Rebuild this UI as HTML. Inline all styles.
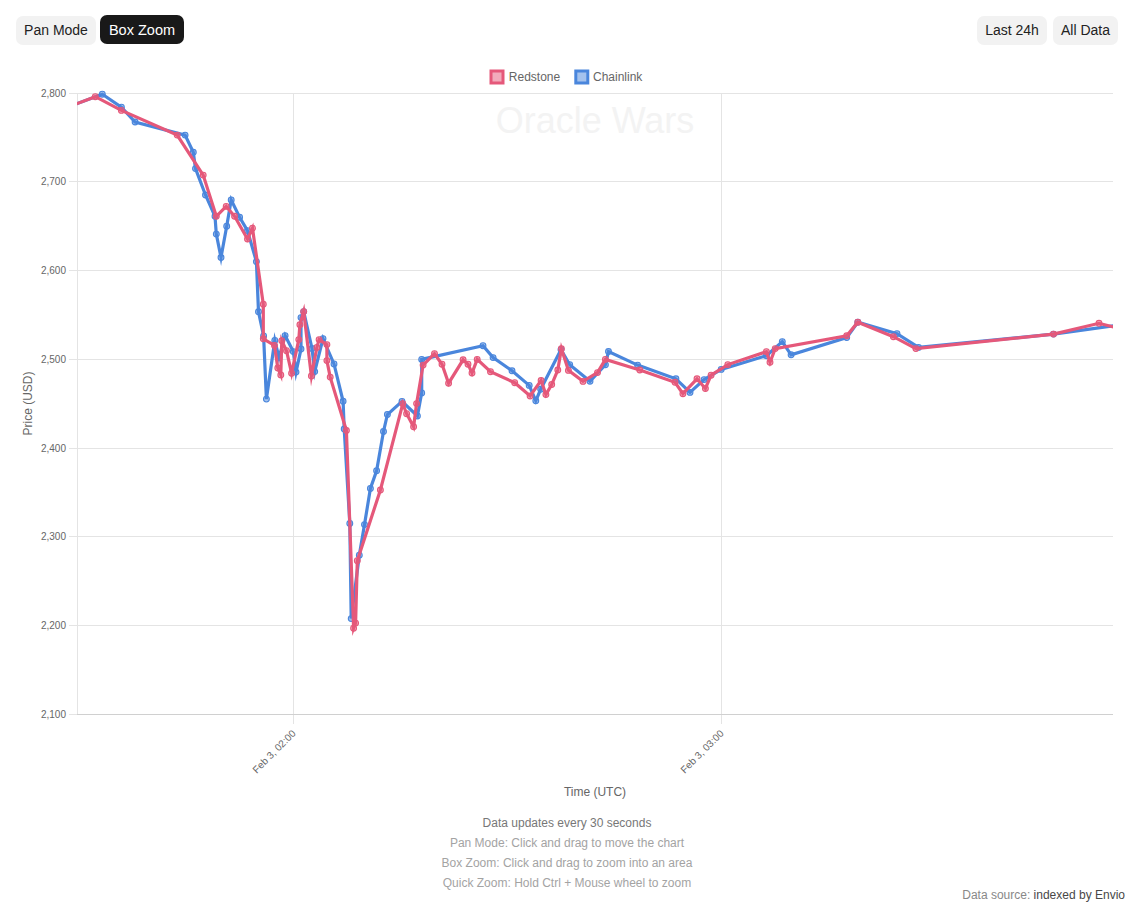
<!DOCTYPE html>
<html><head><meta charset="utf-8"><title>Oracle Wars</title>
<style>
html,body{margin:0;padding:0;background:#fff;width:1139px;height:908px;overflow:hidden;font-family:"Liberation Sans",sans-serif;}
svg text{font-family:"Liberation Sans",sans-serif;}
.btn{position:absolute;height:29px;line-height:29px;border-radius:7px;background:#f2f2f2;color:#222;font-size:14px;text-align:center;white-space:nowrap;}
.btn.on{background:#191919;color:#fff;}
</style></head><body>
<div class="btn" style="left:16px;top:16px;width:80px;">Pan Mode</div>
<div class="btn on" style="left:100px;top:15px;width:84px;font-size:14.5px;line-height:30.5px;height:29px;">Box Zoom</div>
<div class="btn" style="left:977px;top:16px;width:70px;">Last 24h</div>
<div class="btn" style="left:1053px;top:16px;width:65px;">All Data</div>
<svg width="1139" height="908" style="position:absolute;left:0;top:0"><defs><clipPath id="ca"><rect x="77" y="0" width="1036" height="908"/></clipPath></defs><line x1="69" y1="93.5" x2="1113" y2="93.5" stroke="#e4e4e4" stroke-width="1"/><text x="66" y="96.8" text-anchor="end" font-size="10" fill="#666">2,800</text><line x1="69" y1="181.5" x2="1113" y2="181.5" stroke="#e4e4e4" stroke-width="1"/><text x="66" y="184.8" text-anchor="end" font-size="10" fill="#666">2,700</text><line x1="69" y1="270.5" x2="1113" y2="270.5" stroke="#e4e4e4" stroke-width="1"/><text x="66" y="273.8" text-anchor="end" font-size="10" fill="#666">2,600</text><line x1="69" y1="359.5" x2="1113" y2="359.5" stroke="#e4e4e4" stroke-width="1"/><text x="66" y="362.8" text-anchor="end" font-size="10" fill="#666">2,500</text><line x1="69" y1="448.5" x2="1113" y2="448.5" stroke="#e4e4e4" stroke-width="1"/><text x="66" y="451.8" text-anchor="end" font-size="10" fill="#666">2,400</text><line x1="69" y1="536.5" x2="1113" y2="536.5" stroke="#e4e4e4" stroke-width="1"/><text x="66" y="539.8" text-anchor="end" font-size="10" fill="#666">2,300</text><line x1="69" y1="625.5" x2="1113" y2="625.5" stroke="#e4e4e4" stroke-width="1"/><text x="66" y="628.8" text-anchor="end" font-size="10" fill="#666">2,200</text><line x1="69" y1="714.5" x2="1113" y2="714.5" stroke="#e4e4e4" stroke-width="1"/><text x="66" y="717.8" text-anchor="end" font-size="10" fill="#666">2,100</text><line x1="77.5" y1="93" x2="77.5" y2="714" stroke="#e4e4e4" stroke-width="1"/><line x1="293.5" y1="93" x2="293.5" y2="724" stroke="#e4e4e4" stroke-width="1"/><line x1="721.5" y1="93" x2="721.5" y2="724" stroke="#e4e4e4" stroke-width="1"/><line x1="77" y1="714.5" x2="1113" y2="714.5" stroke="#d0d0d0" stroke-width="1"/><text transform="translate(294.5,732.3) rotate(-45)" text-anchor="end" dominant-baseline="middle" font-size="10" fill="#666">Feb 3, 02:00</text><text transform="translate(722.5,732.3) rotate(-45)" text-anchor="end" dominant-baseline="middle" font-size="10" fill="#666">Feb 3, 03:00</text><text x="595" y="133" text-anchor="middle" font-size="36" fill="#f3f3f3">Oracle Wars</text><g clip-path="url(#ca)"><polyline points="60,110.0 102.3,94.19999999999999 121.4,107.19999999999999 135.1,122.0 185.1,135.1 193.3,152.29999999999998 195.5,168.6 205.5,195.0 215,216.29999999999998 216.3,234.1 221,257.40000000000003 226.7,226.2 231.2,199.9 239.6,217.29999999999998 247.5,230.6 256.4,261.6 258.5,311.8 263.6,335.90000000000003 266.4,399.1 274.8,340.40000000000003 279,357.6 285.1,335.6 293.3,351.6 296,372.1 301,349.0 301,317.6 303.7,311.6 312,348.5 314.7,371.6 323,338.6 334,363.90000000000003 343.1,401.3 344.2,428.90000000000003 349.8,523.4 351.2,618.6 359.3,555.3000000000001 364.5,524.6 370.4,488.5 376.6,470.8 383.5,431.5 387.4,414.5 402,401.40000000000003 417.4,416.0 421.7,392.90000000000003 421.7,359.40000000000003 483,345.70000000000005 493.1,357.6 512,370.8 529.2,385.40000000000003 535.8,400.8 540.7,389.3 561,349.6 569.7,364.70000000000005 590,381.20000000000005 605.4,364.70000000000005 608.5,351.5 637.6,365.1 675.9,378.8 690,392.40000000000003 704.1,379.6 721.2,369.40000000000003 766.4,355.70000000000005 782.3,341.6 791.1,354.8 846.7,337.6 857.8,322.20000000000005 897,333.6 918.5,347.40000000000003 1053.5,334.1 1125,324.1" fill="none" stroke="#4a86dc" stroke-width="3.2" stroke-linejoin="miter" stroke-miterlimit="10"/><circle cx="60" cy="110.0" r="2.9" fill="rgba(74,134,220,0.5)" stroke="#4a86dc" stroke-width="1.1"/><circle cx="102.3" cy="94.19999999999999" r="2.9" fill="rgba(74,134,220,0.5)" stroke="#4a86dc" stroke-width="1.1"/><circle cx="121.4" cy="107.19999999999999" r="2.9" fill="rgba(74,134,220,0.5)" stroke="#4a86dc" stroke-width="1.1"/><circle cx="135.1" cy="122.0" r="2.9" fill="rgba(74,134,220,0.5)" stroke="#4a86dc" stroke-width="1.1"/><circle cx="185.1" cy="135.1" r="2.9" fill="rgba(74,134,220,0.5)" stroke="#4a86dc" stroke-width="1.1"/><circle cx="193.3" cy="152.29999999999998" r="2.9" fill="rgba(74,134,220,0.5)" stroke="#4a86dc" stroke-width="1.1"/><circle cx="195.5" cy="168.6" r="2.9" fill="rgba(74,134,220,0.5)" stroke="#4a86dc" stroke-width="1.1"/><circle cx="205.5" cy="195.0" r="2.9" fill="rgba(74,134,220,0.5)" stroke="#4a86dc" stroke-width="1.1"/><circle cx="215" cy="216.29999999999998" r="2.9" fill="rgba(74,134,220,0.5)" stroke="#4a86dc" stroke-width="1.1"/><circle cx="216.3" cy="234.1" r="2.9" fill="rgba(74,134,220,0.5)" stroke="#4a86dc" stroke-width="1.1"/><circle cx="221" cy="257.40000000000003" r="2.9" fill="rgba(74,134,220,0.5)" stroke="#4a86dc" stroke-width="1.1"/><circle cx="226.7" cy="226.2" r="2.9" fill="rgba(74,134,220,0.5)" stroke="#4a86dc" stroke-width="1.1"/><circle cx="231.2" cy="199.9" r="2.9" fill="rgba(74,134,220,0.5)" stroke="#4a86dc" stroke-width="1.1"/><circle cx="239.6" cy="217.29999999999998" r="2.9" fill="rgba(74,134,220,0.5)" stroke="#4a86dc" stroke-width="1.1"/><circle cx="247.5" cy="230.6" r="2.9" fill="rgba(74,134,220,0.5)" stroke="#4a86dc" stroke-width="1.1"/><circle cx="256.4" cy="261.6" r="2.9" fill="rgba(74,134,220,0.5)" stroke="#4a86dc" stroke-width="1.1"/><circle cx="258.5" cy="311.8" r="2.9" fill="rgba(74,134,220,0.5)" stroke="#4a86dc" stroke-width="1.1"/><circle cx="263.6" cy="335.90000000000003" r="2.9" fill="rgba(74,134,220,0.5)" stroke="#4a86dc" stroke-width="1.1"/><circle cx="266.4" cy="399.1" r="2.9" fill="rgba(74,134,220,0.5)" stroke="#4a86dc" stroke-width="1.1"/><circle cx="274.8" cy="340.40000000000003" r="2.9" fill="rgba(74,134,220,0.5)" stroke="#4a86dc" stroke-width="1.1"/><circle cx="279" cy="357.6" r="2.9" fill="rgba(74,134,220,0.5)" stroke="#4a86dc" stroke-width="1.1"/><circle cx="285.1" cy="335.6" r="2.9" fill="rgba(74,134,220,0.5)" stroke="#4a86dc" stroke-width="1.1"/><circle cx="293.3" cy="351.6" r="2.9" fill="rgba(74,134,220,0.5)" stroke="#4a86dc" stroke-width="1.1"/><circle cx="296" cy="372.1" r="2.9" fill="rgba(74,134,220,0.5)" stroke="#4a86dc" stroke-width="1.1"/><circle cx="301" cy="349.0" r="2.9" fill="rgba(74,134,220,0.5)" stroke="#4a86dc" stroke-width="1.1"/><circle cx="301" cy="317.6" r="2.9" fill="rgba(74,134,220,0.5)" stroke="#4a86dc" stroke-width="1.1"/><circle cx="303.7" cy="311.6" r="2.9" fill="rgba(74,134,220,0.5)" stroke="#4a86dc" stroke-width="1.1"/><circle cx="312" cy="348.5" r="2.9" fill="rgba(74,134,220,0.5)" stroke="#4a86dc" stroke-width="1.1"/><circle cx="314.7" cy="371.6" r="2.9" fill="rgba(74,134,220,0.5)" stroke="#4a86dc" stroke-width="1.1"/><circle cx="323" cy="338.6" r="2.9" fill="rgba(74,134,220,0.5)" stroke="#4a86dc" stroke-width="1.1"/><circle cx="334" cy="363.90000000000003" r="2.9" fill="rgba(74,134,220,0.5)" stroke="#4a86dc" stroke-width="1.1"/><circle cx="343.1" cy="401.3" r="2.9" fill="rgba(74,134,220,0.5)" stroke="#4a86dc" stroke-width="1.1"/><circle cx="344.2" cy="428.90000000000003" r="2.9" fill="rgba(74,134,220,0.5)" stroke="#4a86dc" stroke-width="1.1"/><circle cx="349.8" cy="523.4" r="2.9" fill="rgba(74,134,220,0.5)" stroke="#4a86dc" stroke-width="1.1"/><circle cx="351.2" cy="618.6" r="2.9" fill="rgba(74,134,220,0.5)" stroke="#4a86dc" stroke-width="1.1"/><circle cx="359.3" cy="555.3000000000001" r="2.9" fill="rgba(74,134,220,0.5)" stroke="#4a86dc" stroke-width="1.1"/><circle cx="364.5" cy="524.6" r="2.9" fill="rgba(74,134,220,0.5)" stroke="#4a86dc" stroke-width="1.1"/><circle cx="370.4" cy="488.5" r="2.9" fill="rgba(74,134,220,0.5)" stroke="#4a86dc" stroke-width="1.1"/><circle cx="376.6" cy="470.8" r="2.9" fill="rgba(74,134,220,0.5)" stroke="#4a86dc" stroke-width="1.1"/><circle cx="383.5" cy="431.5" r="2.9" fill="rgba(74,134,220,0.5)" stroke="#4a86dc" stroke-width="1.1"/><circle cx="387.4" cy="414.5" r="2.9" fill="rgba(74,134,220,0.5)" stroke="#4a86dc" stroke-width="1.1"/><circle cx="402" cy="401.40000000000003" r="2.9" fill="rgba(74,134,220,0.5)" stroke="#4a86dc" stroke-width="1.1"/><circle cx="417.4" cy="416.0" r="2.9" fill="rgba(74,134,220,0.5)" stroke="#4a86dc" stroke-width="1.1"/><circle cx="421.7" cy="392.90000000000003" r="2.9" fill="rgba(74,134,220,0.5)" stroke="#4a86dc" stroke-width="1.1"/><circle cx="421.7" cy="359.40000000000003" r="2.9" fill="rgba(74,134,220,0.5)" stroke="#4a86dc" stroke-width="1.1"/><circle cx="483" cy="345.70000000000005" r="2.9" fill="rgba(74,134,220,0.5)" stroke="#4a86dc" stroke-width="1.1"/><circle cx="493.1" cy="357.6" r="2.9" fill="rgba(74,134,220,0.5)" stroke="#4a86dc" stroke-width="1.1"/><circle cx="512" cy="370.8" r="2.9" fill="rgba(74,134,220,0.5)" stroke="#4a86dc" stroke-width="1.1"/><circle cx="529.2" cy="385.40000000000003" r="2.9" fill="rgba(74,134,220,0.5)" stroke="#4a86dc" stroke-width="1.1"/><circle cx="535.8" cy="400.8" r="2.9" fill="rgba(74,134,220,0.5)" stroke="#4a86dc" stroke-width="1.1"/><circle cx="540.7" cy="389.3" r="2.9" fill="rgba(74,134,220,0.5)" stroke="#4a86dc" stroke-width="1.1"/><circle cx="561" cy="349.6" r="2.9" fill="rgba(74,134,220,0.5)" stroke="#4a86dc" stroke-width="1.1"/><circle cx="569.7" cy="364.70000000000005" r="2.9" fill="rgba(74,134,220,0.5)" stroke="#4a86dc" stroke-width="1.1"/><circle cx="590" cy="381.20000000000005" r="2.9" fill="rgba(74,134,220,0.5)" stroke="#4a86dc" stroke-width="1.1"/><circle cx="605.4" cy="364.70000000000005" r="2.9" fill="rgba(74,134,220,0.5)" stroke="#4a86dc" stroke-width="1.1"/><circle cx="608.5" cy="351.5" r="2.9" fill="rgba(74,134,220,0.5)" stroke="#4a86dc" stroke-width="1.1"/><circle cx="637.6" cy="365.1" r="2.9" fill="rgba(74,134,220,0.5)" stroke="#4a86dc" stroke-width="1.1"/><circle cx="675.9" cy="378.8" r="2.9" fill="rgba(74,134,220,0.5)" stroke="#4a86dc" stroke-width="1.1"/><circle cx="690" cy="392.40000000000003" r="2.9" fill="rgba(74,134,220,0.5)" stroke="#4a86dc" stroke-width="1.1"/><circle cx="704.1" cy="379.6" r="2.9" fill="rgba(74,134,220,0.5)" stroke="#4a86dc" stroke-width="1.1"/><circle cx="721.2" cy="369.40000000000003" r="2.9" fill="rgba(74,134,220,0.5)" stroke="#4a86dc" stroke-width="1.1"/><circle cx="766.4" cy="355.70000000000005" r="2.9" fill="rgba(74,134,220,0.5)" stroke="#4a86dc" stroke-width="1.1"/><circle cx="782.3" cy="341.6" r="2.9" fill="rgba(74,134,220,0.5)" stroke="#4a86dc" stroke-width="1.1"/><circle cx="791.1" cy="354.8" r="2.9" fill="rgba(74,134,220,0.5)" stroke="#4a86dc" stroke-width="1.1"/><circle cx="846.7" cy="337.6" r="2.9" fill="rgba(74,134,220,0.5)" stroke="#4a86dc" stroke-width="1.1"/><circle cx="857.8" cy="322.20000000000005" r="2.9" fill="rgba(74,134,220,0.5)" stroke="#4a86dc" stroke-width="1.1"/><circle cx="897" cy="333.6" r="2.9" fill="rgba(74,134,220,0.5)" stroke="#4a86dc" stroke-width="1.1"/><circle cx="918.5" cy="347.40000000000003" r="2.9" fill="rgba(74,134,220,0.5)" stroke="#4a86dc" stroke-width="1.1"/><circle cx="1053.5" cy="334.1" r="2.9" fill="rgba(74,134,220,0.5)" stroke="#4a86dc" stroke-width="1.1"/><circle cx="1125" cy="324.1" r="2.9" fill="rgba(74,134,220,0.5)" stroke="#4a86dc" stroke-width="1.1"/><polyline points="60,110.0 95.3,96.69999999999999 121.4,110.39999999999999 177.2,135.1 203.2,175.1 216.3,216.29999999999998 226.2,206.4 234.6,216.29999999999998 247.5,239.1 252.5,228.2 263.3,304.3 263.3,338.8 274.5,345.5 277.8,368.0 280.8,374.90000000000003 281.8,340.8 286.5,350.70000000000005 291.6,373.20000000000005 298.8,339.6 299.9,324.8 303.7,311.6 311.4,376.0 316.9,347.40000000000003 319.1,339.6 326.9,344.6 326.9,360.6 330.2,377.1 346.4,430.5 353.6,628.2 355.6,623.1 357.3,560.7 380.4,490.0 402.8,403.70000000000005 406.6,413.70000000000005 413.6,426.8 416.6,403.6 423.1,365.1 434.5,353.70000000000005 442,364.20000000000005 448.6,383.20000000000005 463.1,359.8 468,364.20000000000005 472,373.0 477.2,359.40000000000003 490.5,371.70000000000005 514.7,382.70000000000005 530.1,396.0 541.1,380.5 545.9,394.6 551.7,384.5 557.8,370.0 561.4,348.8 568.4,370.40000000000003 583,381.40000000000003 597.5,372.6 605.4,359.40000000000003 639.8,370.0 675,382.3 682.9,393.70000000000005 697,378.8 705.4,388.5 711.1,375.20000000000005 727.8,364.6 766.4,351.70000000000005 770,362.3 775.2,348.6 846.7,335.8 857.8,322.20000000000005 893.4,336.70000000000005 915.9,348.6 1053.5,334.1 1099,323.3 1130,331.3" fill="none" stroke="#e5587a" stroke-width="3.2" stroke-linejoin="miter" stroke-miterlimit="10"/><circle cx="60" cy="110.0" r="2.9" fill="rgba(229,88,122,0.5)" stroke="#e5587a" stroke-width="1.1"/><circle cx="95.3" cy="96.69999999999999" r="2.9" fill="rgba(229,88,122,0.5)" stroke="#e5587a" stroke-width="1.1"/><circle cx="121.4" cy="110.39999999999999" r="2.9" fill="rgba(229,88,122,0.5)" stroke="#e5587a" stroke-width="1.1"/><circle cx="177.2" cy="135.1" r="2.9" fill="rgba(229,88,122,0.5)" stroke="#e5587a" stroke-width="1.1"/><circle cx="203.2" cy="175.1" r="2.9" fill="rgba(229,88,122,0.5)" stroke="#e5587a" stroke-width="1.1"/><circle cx="216.3" cy="216.29999999999998" r="2.9" fill="rgba(229,88,122,0.5)" stroke="#e5587a" stroke-width="1.1"/><circle cx="226.2" cy="206.4" r="2.9" fill="rgba(229,88,122,0.5)" stroke="#e5587a" stroke-width="1.1"/><circle cx="234.6" cy="216.29999999999998" r="2.9" fill="rgba(229,88,122,0.5)" stroke="#e5587a" stroke-width="1.1"/><circle cx="247.5" cy="239.1" r="2.9" fill="rgba(229,88,122,0.5)" stroke="#e5587a" stroke-width="1.1"/><circle cx="252.5" cy="228.2" r="2.9" fill="rgba(229,88,122,0.5)" stroke="#e5587a" stroke-width="1.1"/><circle cx="263.3" cy="304.3" r="2.9" fill="rgba(229,88,122,0.5)" stroke="#e5587a" stroke-width="1.1"/><circle cx="263.3" cy="338.8" r="2.9" fill="rgba(229,88,122,0.5)" stroke="#e5587a" stroke-width="1.1"/><circle cx="274.5" cy="345.5" r="2.9" fill="rgba(229,88,122,0.5)" stroke="#e5587a" stroke-width="1.1"/><circle cx="277.8" cy="368.0" r="2.9" fill="rgba(229,88,122,0.5)" stroke="#e5587a" stroke-width="1.1"/><circle cx="280.8" cy="374.90000000000003" r="2.9" fill="rgba(229,88,122,0.5)" stroke="#e5587a" stroke-width="1.1"/><circle cx="281.8" cy="340.8" r="2.9" fill="rgba(229,88,122,0.5)" stroke="#e5587a" stroke-width="1.1"/><circle cx="286.5" cy="350.70000000000005" r="2.9" fill="rgba(229,88,122,0.5)" stroke="#e5587a" stroke-width="1.1"/><circle cx="291.6" cy="373.20000000000005" r="2.9" fill="rgba(229,88,122,0.5)" stroke="#e5587a" stroke-width="1.1"/><circle cx="298.8" cy="339.6" r="2.9" fill="rgba(229,88,122,0.5)" stroke="#e5587a" stroke-width="1.1"/><circle cx="299.9" cy="324.8" r="2.9" fill="rgba(229,88,122,0.5)" stroke="#e5587a" stroke-width="1.1"/><circle cx="303.7" cy="311.6" r="2.9" fill="rgba(229,88,122,0.5)" stroke="#e5587a" stroke-width="1.1"/><circle cx="311.4" cy="376.0" r="2.9" fill="rgba(229,88,122,0.5)" stroke="#e5587a" stroke-width="1.1"/><circle cx="316.9" cy="347.40000000000003" r="2.9" fill="rgba(229,88,122,0.5)" stroke="#e5587a" stroke-width="1.1"/><circle cx="319.1" cy="339.6" r="2.9" fill="rgba(229,88,122,0.5)" stroke="#e5587a" stroke-width="1.1"/><circle cx="326.9" cy="344.6" r="2.9" fill="rgba(229,88,122,0.5)" stroke="#e5587a" stroke-width="1.1"/><circle cx="326.9" cy="360.6" r="2.9" fill="rgba(229,88,122,0.5)" stroke="#e5587a" stroke-width="1.1"/><circle cx="330.2" cy="377.1" r="2.9" fill="rgba(229,88,122,0.5)" stroke="#e5587a" stroke-width="1.1"/><circle cx="346.4" cy="430.5" r="2.9" fill="rgba(229,88,122,0.5)" stroke="#e5587a" stroke-width="1.1"/><circle cx="353.6" cy="628.2" r="2.9" fill="rgba(229,88,122,0.5)" stroke="#e5587a" stroke-width="1.1"/><circle cx="355.6" cy="623.1" r="2.9" fill="rgba(229,88,122,0.5)" stroke="#e5587a" stroke-width="1.1"/><circle cx="357.3" cy="560.7" r="2.9" fill="rgba(229,88,122,0.5)" stroke="#e5587a" stroke-width="1.1"/><circle cx="380.4" cy="490.0" r="2.9" fill="rgba(229,88,122,0.5)" stroke="#e5587a" stroke-width="1.1"/><circle cx="402.8" cy="403.70000000000005" r="2.9" fill="rgba(229,88,122,0.5)" stroke="#e5587a" stroke-width="1.1"/><circle cx="406.6" cy="413.70000000000005" r="2.9" fill="rgba(229,88,122,0.5)" stroke="#e5587a" stroke-width="1.1"/><circle cx="413.6" cy="426.8" r="2.9" fill="rgba(229,88,122,0.5)" stroke="#e5587a" stroke-width="1.1"/><circle cx="416.6" cy="403.6" r="2.9" fill="rgba(229,88,122,0.5)" stroke="#e5587a" stroke-width="1.1"/><circle cx="423.1" cy="365.1" r="2.9" fill="rgba(229,88,122,0.5)" stroke="#e5587a" stroke-width="1.1"/><circle cx="434.5" cy="353.70000000000005" r="2.9" fill="rgba(229,88,122,0.5)" stroke="#e5587a" stroke-width="1.1"/><circle cx="442" cy="364.20000000000005" r="2.9" fill="rgba(229,88,122,0.5)" stroke="#e5587a" stroke-width="1.1"/><circle cx="448.6" cy="383.20000000000005" r="2.9" fill="rgba(229,88,122,0.5)" stroke="#e5587a" stroke-width="1.1"/><circle cx="463.1" cy="359.8" r="2.9" fill="rgba(229,88,122,0.5)" stroke="#e5587a" stroke-width="1.1"/><circle cx="468" cy="364.20000000000005" r="2.9" fill="rgba(229,88,122,0.5)" stroke="#e5587a" stroke-width="1.1"/><circle cx="472" cy="373.0" r="2.9" fill="rgba(229,88,122,0.5)" stroke="#e5587a" stroke-width="1.1"/><circle cx="477.2" cy="359.40000000000003" r="2.9" fill="rgba(229,88,122,0.5)" stroke="#e5587a" stroke-width="1.1"/><circle cx="490.5" cy="371.70000000000005" r="2.9" fill="rgba(229,88,122,0.5)" stroke="#e5587a" stroke-width="1.1"/><circle cx="514.7" cy="382.70000000000005" r="2.9" fill="rgba(229,88,122,0.5)" stroke="#e5587a" stroke-width="1.1"/><circle cx="530.1" cy="396.0" r="2.9" fill="rgba(229,88,122,0.5)" stroke="#e5587a" stroke-width="1.1"/><circle cx="541.1" cy="380.5" r="2.9" fill="rgba(229,88,122,0.5)" stroke="#e5587a" stroke-width="1.1"/><circle cx="545.9" cy="394.6" r="2.9" fill="rgba(229,88,122,0.5)" stroke="#e5587a" stroke-width="1.1"/><circle cx="551.7" cy="384.5" r="2.9" fill="rgba(229,88,122,0.5)" stroke="#e5587a" stroke-width="1.1"/><circle cx="557.8" cy="370.0" r="2.9" fill="rgba(229,88,122,0.5)" stroke="#e5587a" stroke-width="1.1"/><circle cx="561.4" cy="348.8" r="2.9" fill="rgba(229,88,122,0.5)" stroke="#e5587a" stroke-width="1.1"/><circle cx="568.4" cy="370.40000000000003" r="2.9" fill="rgba(229,88,122,0.5)" stroke="#e5587a" stroke-width="1.1"/><circle cx="583" cy="381.40000000000003" r="2.9" fill="rgba(229,88,122,0.5)" stroke="#e5587a" stroke-width="1.1"/><circle cx="597.5" cy="372.6" r="2.9" fill="rgba(229,88,122,0.5)" stroke="#e5587a" stroke-width="1.1"/><circle cx="605.4" cy="359.40000000000003" r="2.9" fill="rgba(229,88,122,0.5)" stroke="#e5587a" stroke-width="1.1"/><circle cx="639.8" cy="370.0" r="2.9" fill="rgba(229,88,122,0.5)" stroke="#e5587a" stroke-width="1.1"/><circle cx="675" cy="382.3" r="2.9" fill="rgba(229,88,122,0.5)" stroke="#e5587a" stroke-width="1.1"/><circle cx="682.9" cy="393.70000000000005" r="2.9" fill="rgba(229,88,122,0.5)" stroke="#e5587a" stroke-width="1.1"/><circle cx="697" cy="378.8" r="2.9" fill="rgba(229,88,122,0.5)" stroke="#e5587a" stroke-width="1.1"/><circle cx="705.4" cy="388.5" r="2.9" fill="rgba(229,88,122,0.5)" stroke="#e5587a" stroke-width="1.1"/><circle cx="711.1" cy="375.20000000000005" r="2.9" fill="rgba(229,88,122,0.5)" stroke="#e5587a" stroke-width="1.1"/><circle cx="727.8" cy="364.6" r="2.9" fill="rgba(229,88,122,0.5)" stroke="#e5587a" stroke-width="1.1"/><circle cx="766.4" cy="351.70000000000005" r="2.9" fill="rgba(229,88,122,0.5)" stroke="#e5587a" stroke-width="1.1"/><circle cx="770" cy="362.3" r="2.9" fill="rgba(229,88,122,0.5)" stroke="#e5587a" stroke-width="1.1"/><circle cx="775.2" cy="348.6" r="2.9" fill="rgba(229,88,122,0.5)" stroke="#e5587a" stroke-width="1.1"/><circle cx="846.7" cy="335.8" r="2.9" fill="rgba(229,88,122,0.5)" stroke="#e5587a" stroke-width="1.1"/><circle cx="857.8" cy="322.20000000000005" r="2.9" fill="rgba(229,88,122,0.5)" stroke="#e5587a" stroke-width="1.1"/><circle cx="893.4" cy="336.70000000000005" r="2.9" fill="rgba(229,88,122,0.5)" stroke="#e5587a" stroke-width="1.1"/><circle cx="915.9" cy="348.6" r="2.9" fill="rgba(229,88,122,0.5)" stroke="#e5587a" stroke-width="1.1"/><circle cx="1053.5" cy="334.1" r="2.9" fill="rgba(229,88,122,0.5)" stroke="#e5587a" stroke-width="1.1"/><circle cx="1099" cy="323.3" r="2.9" fill="rgba(229,88,122,0.5)" stroke="#e5587a" stroke-width="1.1"/><circle cx="1130" cy="331.3" r="2.9" fill="rgba(229,88,122,0.5)" stroke="#e5587a" stroke-width="1.1"/></g><rect x="491" y="71" width="12" height="12" fill="rgba(229,88,122,0.5)" stroke="#e5587a" stroke-width="3"/><text x="508.8" y="81" font-size="12" fill="#666">Redstone</text><rect x="575.8" y="71" width="12" height="12" fill="rgba(74,134,220,0.5)" stroke="#4a86dc" stroke-width="3"/><text x="593" y="81" font-size="12" fill="#666">Chainlink</text><text transform="translate(31.5,403.5) rotate(-90)" text-anchor="middle" font-size="12" fill="#666">Price (USD)</text><text x="595" y="795.7" text-anchor="middle" font-size="12" fill="#666">Time (UTC)</text><text x="567" y="826.7" text-anchor="middle" font-size="12" fill="#777">Data updates every 30 seconds</text><text x="567" y="846.9" text-anchor="middle" font-size="12" fill="#a3a3a3">Pan Mode: Click and drag to move the chart</text><text x="567" y="866.7" text-anchor="middle" font-size="12" fill="#a3a3a3">Box Zoom: Click and drag to zoom into an area</text><text x="567" y="886.7" text-anchor="middle" font-size="12" fill="#a3a3a3">Quick Zoom: Hold Ctrl + Mouse wheel to zoom</text><text x="1125" y="898.6" text-anchor="end" font-size="12" fill="#888">Data source: <tspan fill="#484848">indexed by Envio</tspan></text></svg>
</body></html>
